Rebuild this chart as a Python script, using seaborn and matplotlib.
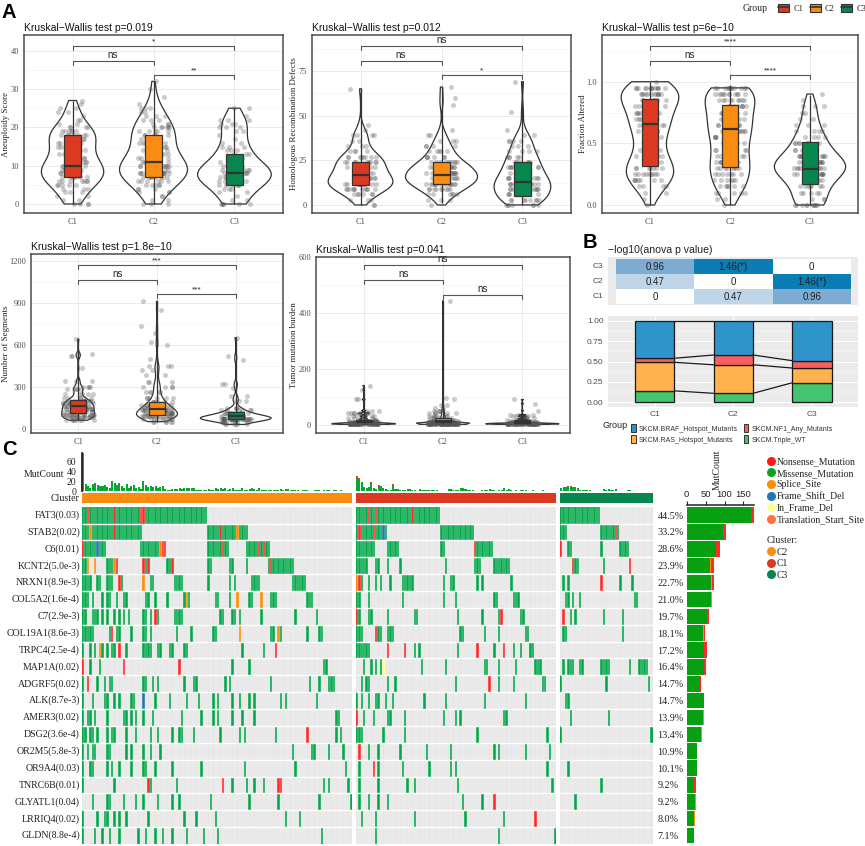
import numpy as np
import pandas as pd
import matplotlib
matplotlib.use("Agg")
import matplotlib.pyplot as plt
import seaborn as sns
from matplotlib.colors import ListedColormap
from matplotlib.lines import Line2D
from matplotlib.patches import Patch
from matplotlib.legend_handler import HandlerTuple
from matplotlib.ticker import AutoMinorLocator

W, H = 865, 846
clusters = ["C1", "C2", "C3"]
cluster_colors = {"C1": "#DB3A20", "C2": "#FA8C12", "C3": "#08864E"}

# panel A: distributions, value levels + how many dots at each
aneu_levels = list(range(33))
aneu_c1 = [4,2,2,3,3,5,7,7,8,8,7,5,5,4,4,4,5,5,7,6,4,2,2,1,2,2,1,1,0,0,0,0,0]
aneu_c2 = [3,2,2,3,3,5,6,8,9,8,8,7,6,5,4,4,5,4,5,5,6,3,3,3,2,3,1,0,1,0,1,0,1]
aneu_c3 = [6,2,1,2,3,6,5,9,8,7,6,3,2,3,3,3,2,1,1,2,3,3,3,1,0,2,0,0,0,0,0,0,0]
aneu_box = {"C1": [0,7,10,18,27], "C2": [0,7,11,18,32], "C3": [0,5,8,13,25]}

hrd_levels = [0,3,6,9,12,15,18,21,24,27,30,33,36,39,42,45,52,56,60,65,66,69]
hrd_c1 = [2,3,6,11,13,12,9,9,9,8,4,3,2,4,1,1,0,0,0,1,0,0]
hrd_c2 = [1,3,6,9,14,16,14,13,9,6,5,4,3,2,1,0,0,1,1,0,1,0]
hrd_c3 = [7,8,8,10,10,8,7,6,6,5,4,3,4,2,1,0,1,0,0,0,0,1]
hrd_box = {"C1": [0,11,17,24,65], "C2": [1,12,17,24,66], "C3": [0,5,13,24,69]}

frac_levels = [0,.05,.1,.15,.2,.25,.3,.35,.4,.45,.5,.55,.6,.65,.7,.75,.8,.85,.9,.95,1.0]
frac_c1 = [1,1,2,4,7,9,7,6,4,3,3,4,5,6,6,5,6,6,12,14,1]
frac_c2 = [1,2,5,6,6,7,8,7,6,6,6,7,8,8,8,7,8,9,11,12,0]
frac_c3 = [10,3,5,7,6,11,14,12,9,5,7,4,4,3,2,2,3,1,1,0,0]
frac_box = {"C1": [0,.32,.66,.86,1.0], "C2": [0,.31,.62,.81,.97], "C3": [0,.17,.29,.51,.89]}

seg_l1 = [60,80,100,120,140,160,180,200,220,250,280,300,340,430,520,530,640]
seg_c1 = [8,14,14,13,13,13,12,10,6,5,5,4,3,1,2,2,1]
seg_l2 = [50,70,90,110,130,150,170,190,220,260,300,330,380,420,450,500,600,620,680,730,850,910]
seg_c2 = [6,10,18,16,13,10,8,7,6,5,4,3,2,2,3,1,1,1,1,1,1,1]
seg_l3 = [30,50,70,90,110,130,150,200,230,290,320,490,520,650]
seg_c3 = [6,10,32,20,10,6,4,3,2,1,2,1,1,1]
seg_box = {"C1": [60,110,162,205,640], "C2": [50,98,138,193,910], "C3": [30,69,90,121,650]}

tmb_l1 = [1,3,5,8,12,16,22,30,40,50,90,125,140]
tmb_c1 = [20,25,20,15,8,7,5,5,8,3,2,1,1]
tmb_l2 = [1,3,5,8,12,16,22,30,40,50,60,70,90,95,443]
tmb_c2 = [25,30,25,20,12,8,6,6,5,4,2,2,1,1,1]
tmb_l3 = [1,3,5,8,12,16,22,30,35,50,75,90]
tmb_c3 = [20,28,22,12,8,5,4,4,3,1,1,1]
tmb_box = {"C1": [1,8,12,16,140], "C2": [1,8,14,22,443], "C3": [1,5,9,15,90]}

# panel B
heat_values = [[0.96,1.46,0],[0.47,0,1.46],[0,0.47,0.96]]
heat_text = [["0.96","1.46(*)","0"],["0.47","0","1.46(*)"],["0","0.47","0.96"]]
heat_rows = ["C3", "C2", "C1"]
share_wt = [0.14, 0.11, 0.24]
share_ras = [0.35, 0.35, 0.18]
share_nf1 = [0.05, 0.12, 0.09]
share_braf = [0.46, 0.42, 0.49]

# panel C
genes = ["FAT3(0.03)","STAB2(0.02)","C6(0.01)","KCNT2(5.0e-3)","NRXN1(8.9e-3)","COL5A2(1.6e-4)",
         "C7(2.9e-3)","COL19A1(8.6e-3)","TRPC4(2.5e-4)","MAP1A(0.02)","ADGRF5(0.02)","ALK(8.7e-3)",
         "AMER3(0.02)","DSG2(3.6e-4)","OR2M5(5.8e-3)","OR9A4(0.03)","TNRC6B(0.01)","GLYATL1(0.04)",
         "LRRIQ4(0.02)","GLDN(8.8e-4)"]
percents = ["44.5%","33.2%","28.6%","23.9%","22.7%","21.0%","19.7%","18.1%","17.2%","16.4%",
            "14.7%","14.7%","13.9%","13.4%","10.9%","10.1%","9.2%","9.2%","8.0%","7.1%"]

hits_c2 = [
    [*range(52)],
    [*range(25),*range(52,69)],
    [*range(10),*range(24,35),*range(52,61),*range(68,78)],
    [0,1,2,5,10,11,12,13,14,25,26,27,35,36,37,52,53,61,62,68,*range(77,88)],
    [0,1,2,3,6,7,10,11,12,15,16,25,28,29,38,39,40,41,52,61,63,70,71,72,73,*range(87,93)],
    [0,1,2,4,8,10,11,14,17,18,26,27,30,35,42,43,44,55,56,61,64,69,70,74,78,79,80,93,94,95],
    [0,1,4,5,6,8,10,13,15,17,19,25,26,28,30,31,38,39,40,41,57,58,62,63,65,74,88,97],
    [0,1,2,3,4,11,12,14,15,20,25,26,28,39,45,54,55,65,78,79,81,82,93,98,99],
    [0,3,5,7,8,10,12,13,15,18,25,26,27,28,31,32,36,37,42,43,66,75,80],
    [0,3,7,17,40,62,69,100,101],
    [0,2,6,9,11,12,25,26,29,31,42,46,47,59,61,78,94,98,102,103,104],
    [0,4,9,10,13,15,20,21,25,30,36,43,48,54,56,62,65,69,71,82,84,97],
    [0,2,3,5,10,17,18,20,22,25,29,41,49,54,56,62,66,71,105,106],
    [0,1,3,4,6,10,12,13,18,22,28,31,37,40,41,46,57,65,67,80,93,105,107],
    [0,2,4,5,10,11,18,20,25,28,32,87,95,96,102,108],
    [0,3,4,10,12,15,20,25,26,30,37,49,67,88,109],
    [0,13,27,28,39,58,62,68,71,75,81,82,100,102,110],
    [4,10,11,17,22,25,31,37,40,53,69,81,98,111],
    [0,6,9,10,13,15,18,27,42,47,55,84,90],
    [0,5,8,11,15,23,26,30,33,37,43,50,56,99],
]
red_c2 = [[2,13,24,25],[13,57],[0,33,34,58,73,75],[14,25,27,37,78],[15],[],[30],[12],[15,80],
          [0,17,40],[2],[],[],[93],[],[],[27,58,81,82],[],[],[]]
orange_c2 = [(1,3),(1,64),(2,32),(3,2),(3,5),(3,13),(4,25),(5,43),(5,64),(5,74),(7,65),(7,81),(8,7)]
blue_c2 = [(2,6),(11,25)]

hits_c1 = [
    [*range(35)],
    [*range(13),*range(35,49)],
    [*range(8),*range(13,18),35,36,*range(49,57)],
    [*range(5),8,9,13,18,37,49,50,51,*range(57,64)],
    [0,1,2,5,8,10,14,*range(19,24),36,39,40,50,52,64],
    [0,1,5,19,36,41,57,58,65,66,67],
    [0,1,5,6,13,24,25,42,52,59,60,68,69],
    [0,1,2,8,9,10,13,14,15,43,44,53,59,70,71],
    [0,1,2,3,4,5,13,20,24,26,42,50,57,61,65,68,72,73],
    [3,6,8,10,11,27,37,53,54,59,66,74,75,76],
    [2,4,5,13,16,41,55,59,65,77,78],
    [0,2,5,8,9,12,15,28,37,53,70],
    [0,3,7,13,14,20,36,41,43,61,62],
    [0,1,2,11,20,50,79],
    [1,5,9,18,29,39,57,59,70,80],
    [1,7,9,19,30,39,41,79],
    [1,9,21,24,42,81],
    [1,5,9,13,44,52,57],
    [2,8,24,45,61,74],
    [8,59,82],
]
red_c1 = [[5,8,23],[1,7],[49],[],[1],[],[0,60],[8],[13,20,50,61],[],[55],[],[0],[],[1],[7],[],[57],[74],[]]
orange_c1 = [(4,0)]
blue_c1 = [(1,11)]
yellow_c1 = [(9,11)]

hits_c3 = [
    [*range(17)],
    [0,1,2,*range(17,25)],
    [0,3,4,17,25,26,27,28],
    [5,6,7,18,29],
    [1,3,17,25,30],
    [2,3,5,8,31,32],
    [1,4,6,18,26],
    [1,2,26],
    [],
    [1,3,4,5,8,9,17,18,19,20,29,33,34,35,36],
    [0,19,37],
    [2,3],
    [4,20],
    [0,38],
    [],
    [3],
    [17],
    [6],
    [],
    [],
]
red_c3 = [[],[23],[0],[5,29],[17],[],[1],[],[],[],[],[],[],[],[],[],[],[],[],[]]

mut_c2 = [77,15,11,7,15,17,12,11,11,13,9,7,21,16,13,16,11,6,15,7,10,12,6,9,5,
          20,12,9,10,8,10,6,8,11,5,3,3,5,4,5,7,5,7,6,7,6,6,3,3,3,3,3,
          4,3,2,6,5,6,5,6,3,4,6,3,2,3,6,3,3,4,6,4,3,6,3,2,2,
          3,3,2,2,2,4,3,5,4,3,2,2,2,1,2,2,2,1,1,2,2,2,1,2,2,2,1,3,2,1,2,1,1,1,1]
mut_c1 = [30,26,19,8,7,8,18,6,5,12,11,7,4,3,3,15,5,4,3,2,3,5,5,2,2,1,5,3,2,2,2,2,2,2,1,1,1,1,5,4,
          3,2,3,7,6,4,2,2,2,1,1,1,2,3,2,4,2,3,1,2,2,6,3,4,2,1,2,1,3,2,2,1,1,3,1,1,1,2,1,1,1,1,1]
mut_c3 = [7,9,9,10,10,8,8,6,3,3,2,2,2,1,1,1,1,1,5,3,4,3,3,4,1,1,1,1,2,2,1,1,1,1,1,1,1,1,1]
mut_red_c2 = {0: 3, 13: 2, 25: 2, 14: 1}
mut_red_c1 = {0: 4, 1: 3, 6: 2, 9: 3, 15: 2}
mut_red_c3 = {0: 1, 4: 1}

bar_green = [171,97,77,62,65,64,54,44,47,47,36,45,44,39,26,26,19,23,20,18]
bar_orange = [0,0,0,3,2,3,0,2,0,0,0,0,1,1,0,0,0,1,1,0]
bar_blue = [0,0,0,0,0,0,0,0,0,0,0,1,0,0,0,0,0,0,0,0]
bar_red = [7,7,11,6,4,0,5,2,7,4,3,0,1,0,1,1,5,1,1,0]

sns.set_theme(style="white", rc={"axes.linewidth": 1.0})
plt.rcParams["font.family"] = ["Liberation Sans", "DejaVu Sans"]
np.random.seed(4)

fig = plt.figure(figsize=(W / 100, H / 100), dpi=100)
SERIF = "Liberation Serif"
DARK = "#333333"


def px_axes(l, t, r, b):
    return fig.add_axes([l / W, 1 - b / H, (r - l) / W, (b - t) / H])


def long_table(levels, counts):
    rows = []
    for c, lv, ct in zip(clusters, levels, counts):
        rows.append(pd.DataFrame({"cluster": c, "value": np.repeat(lv, ct)}))
    return pd.concat(rows, ignore_index=True)


def violin_panel(rect, label_x, ylab, title, levels, counts, box, widths, bw, ylim, yticks, ticklabels, marks, bracket_y):
    ax = px_axes(*rect)
    df = long_table(levels, counts)
    for c, w in zip(clusters, widths):
        sns.violinplot(data=df[df.cluster == c], x="cluster", y="value", order=clusters, cut=0, inner=None,
                       density_norm="width", width=w, fill=False, color=DARK, linewidth=0.9,
                       bw_adjust=bw, ax=ax)
    sns.stripplot(data=df, x="cluster", y="value", order=clusters, color="#555555", alpha=0.3, size=3.6,
                  jitter=0.2, ax=ax, zorder=2)
    box_df = pd.DataFrame([(c, v) for c in clusters for v in box[c]], columns=["cluster", "value"])
    sns.boxplot(data=box_df, x="cluster", y="value", order=clusters, hue="cluster", palette=cluster_colors,
                legend=False, dodge=False, width=0.2, whis=np.inf, showcaps=False, linecolor=DARK,
                linewidth=0.9, saturation=1, fliersize=0, zorder=3, medianprops={"linewidth": 1.6}, ax=ax)
    ax.set_xlim(-0.6, 2.6)
    ax.set_ylim(*ylim)
    ax.set_yticks(yticks)
    ax.set_yticklabels(ticklabels)
    ax.yaxis.set_minor_locator(AutoMinorLocator(2))
    ax.grid(True, which="major", color="#ebebeb", lw=0.7)
    ax.grid(True, which="minor", axis="y", color="#f2f2f2", lw=0.4)
    ax.set_axisbelow(True)
    ax.tick_params(axis="both", which="major", length=2, width=0.6, color=DARK, labelsize=6,
                   labelcolor="#4d4d4d", labelfontfamily=SERIF, pad=1.5)
    ax.tick_params(axis="y", which="minor", length=0)
    ax.set_xlabel("")
    ax.set_ylabel(ylab, family=SERIF, fontsize=6.4, color="#222222")
    ax.yaxis.set_label_coords((label_x - rect[0]) / (rect[2] - rect[0]), 0.5)
    for s in ax.spines.values():
        s.set_visible(True)
        s.set_color("#4d4d4d")
        s.set_linewidth(1.1)
    ax.set_title(title, loc="left", fontsize=7.5, color="#111111", pad=3)
    trans = ax.get_xaxis_transform()
    spans = [(0, 2), (0, 1), (1, 2)]
    for (x0, x1), yb, m in zip(spans, bracket_y, marks):
        ax.plot([x0, x0, x1, x1], [yb - 0.022, yb, yb, yb - 0.022], transform=trans, color="#555555",
                lw=0.8, clip_on=False, zorder=5)
        ax.text((x0 + x1) / 2, yb + 0.006, m, transform=trans, ha="center", va="bottom",
                fontsize=7 if m == "ns" else 6, color="#222222")
    return ax


br = (0.938, 0.856, 0.774)
violin_panel((24, 35, 283, 213), 10, "Aneuploidy Score", "Kruskal\u2212Wallis test p=0.019",
             [aneu_levels] * 3, [aneu_c1, aneu_c2, aneu_c3], aneu_box, (0.77, 0.84, 0.91), 1.0,
             (-2.35, 44.1), [0, 10, 20, 30, 40], ["0", "10", "20", "30", "40"], ["*", "ns", "**"], br)
violin_panel((312, 35, 571, 213), 298, "Homologous Recombination Defects", "Kruskal\u2212Wallis test p=0.012",
             [hrd_levels] * 3, [hrd_c1, hrd_c2, hrd_c3], hrd_box, (0.80, 0.89, 0.70), 0.8,
             (-4.5, 95.1), [0, 25, 50, 75], ["0", "25", "50", "75"], ["ns", "ns", "*"], br)
violin_panel((602, 35, 858, 213), 587, "Fraction Altered", "Kruskal\u2212Wallis test p=6e\u221210",
             [frac_levels] * 3, [frac_c1, frac_c2, frac_c3], frac_box, (0.72, 0.62, 0.89), 0.9,
             (-0.065, 1.379), [0, 0.5, 1.0], ["0.0", "0.5", "1.0"], ["****", "ns", "****"], br)
violin_panel((31, 254, 283, 433), 10, "Number of Segments", "Kruskal\u2212Wallis test p=1.8e\u221210",
             [seg_l1, seg_l2, seg_l3], [seg_c1, seg_c2, seg_c3], seg_box, (0.42, 0.52, 0.90), 0.45,
             (-31, 1248), [0, 300, 600, 900, 1200], ["0", "300", "600", "900", "1200"], ["***", "ns", "***"], br)
violin_panel((316, 257, 570, 433), 298, "Tumor mutation burden", "Kruskal\u2212Wallis test p=0.041",
             [tmb_l1, tmb_l2, tmb_l3], [tmb_c1, tmb_c2, tmb_c3], tmb_box, (0.80, 0.67, 0.92), 0.2,
             (-30, 600), [0, 200, 400, 600], ["0", "200", "400", "600"], ["ns", "ns", "ns"], (0.956, 0.871, 0.786))

# group legend, top right
group_handles = [(Patch(fc=cluster_colors[c], ec=DARK, lw=0.8), Line2D([], [], color=DARK, lw=1.2)) for c in clusters]
fig.legend(group_handles, clusters, handler_map={tuple: HandlerTuple(ndivide=1, pad=0)}, ncol=3, frameon=False,
           loc="center left", bbox_to_anchor=(774 / W, 1 - 8.5 / H), borderpad=0, handlelength=1.35, handleheight=1.0,
           handletextpad=0.5, columnspacing=0.75, prop={"family": SERIF, "size": 6}, labelcolor="#222222")
fig.text(743 / W, 1 - 8.5 / H, "Group", family=SERIF, fontsize=7, va="center", color="#222222")

# panel B heatmap
ax = px_axes(607.7, 257, 858, 305)
heat_cmap = sns.blend_palette(["#ffffff", "#BDD3E7", "#7BAAD0", "#0A7DB5"], as_cmap=True)
sns.heatmap(np.array(heat_values), cmap=heat_cmap, vmin=0, vmax=1.46, cbar=False, annot=np.array(heat_text), fmt="",
            annot_kws={"size": 7, "color": "#222222"}, xticklabels=False, yticklabels=heat_rows, ax=ax)
ax.set_facecolor("#ebebeb")
ax.set_xlim(-0.102, 3.09)
ax.set_ylim(3.04, -0.13)
ax.set_xticks([0.5, 1.5, 2.5])
ax.set_xticklabels([])
ax.tick_params(axis="both", length=2, width=0.6, color="#333333", labelsize=6, labelcolor="#4d4d4d", pad=1)
ax.tick_params(axis="y", labelrotation=0)
for s in ax.spines.values():
    s.set_visible(False)
ax.set_title("\u2212log10(anova p value)", loc="left", fontsize=7.6, color="#222222", pad=3, x=0.0)

# panel B stacked bars
ax = px_axes(607.7, 316, 858, 406.7)
ax.set_facecolor("#ebebeb")
stack_names = ["SKCM.Triple_WT", "SKCM.RAS_Hotspot_Mutants", "SKCM.NF1_Any_Mutants", "SKCM.BRAF_Hotspot_Mutants"]
stack_vals = [share_wt, share_ras, share_nf1, share_braf]
stack_cols = ["#45C46F", "#FFB24D", "#F95F5F", "#2E94C9"]
base = np.zeros(3)
tops = []
for vals, col in zip(stack_vals, stack_cols):
    sns.barplot(x=clusters, y=vals, bottom=base, color=col, saturation=1, width=0.5,
                edgecolor="#1a1a1a", linewidth=0.9, ax=ax, zorder=3)
    base = base + np.array(vals)
    tops.append(base.copy())
for top in tops:
    ax.plot([0.25, 0.75], top[:2], color="#1a1a1a", lw=0.9, zorder=3)
    ax.plot([1.25, 1.75], top[1:], color="#1a1a1a", lw=0.9, zorder=3)
ax.set_xlim(-0.6, 2.586)
ax.set_ylim(-0.054, 1.058)
ax.set_yticks([0, 0.25, 0.5, 0.75, 1.0])
ax.set_yticklabels(["0.00", "0.25", "0.50", "0.75", "1.00"])
ax.yaxis.set_minor_locator(AutoMinorLocator(2))
ax.grid(True, which="major", color="white", lw=0.7)
ax.grid(True, which="minor", axis="y", color="white", lw=0.35)
ax.set_axisbelow(True)
ax.tick_params(axis="both", which="major", length=2, width=0.6, color="#333333", labelsize=6, labelcolor="#4d4d4d", pad=1)
ax.tick_params(axis="y", which="minor", length=0)
for s in ax.spines.values():
    s.set_visible(False)

order = [3, 1, 2, 0]
fig.legend([Patch(fc=stack_cols[i], ec="#1a1a1a", lw=0.6) for i in order], [stack_names[i] for i in order],
           ncol=2, frameon=False, loc="upper left", bbox_to_anchor=(628 / W, 1 - 421 / H), borderpad=0,
           handlelength=0.6, handleheight=1.4, handletextpad=0.45, columnspacing=0.9, labelspacing=0.35,
           prop={"size": 5}, labelcolor="#333333")
fig.text(602.5 / W, 1 - 426 / H, "Group", fontsize=6.5, va="center", color="#222222")


# panel C oncoplot
def block_matrix(n, hits, red, orange=(), blue=(), yellow=()):
    mat = np.zeros((len(genes), n))
    for g, idx in enumerate(hits):
        mat[g, idx] = 1
    for g, idx in enumerate(red):
        mat[g, idx] = 2
    for g, i in orange:
        mat[g, i] = 3
    for g, i in blue:
        mat[g, i] = 4
    for g, i in yellow:
        mat[g, i] = 5
    return mat


onco_cmap = ListedColormap(["#E6E6E6", "#03A84A", "#FF2A2A", "#FF8C00", "#1F78B4", "#FFFF99"])
blocks = [
    ("C2", 82, 352, block_matrix(112, hits_c2, red_c2, orange_c2, blue_c2), mut_c2, mut_red_c2),
    ("C1", 355.7, 556, block_matrix(83, hits_c1, red_c1, orange_c1, blue_c1, yellow_c1), mut_c1, mut_red_c1),
    ("C3", 560, 652.7, block_matrix(39, hits_c3, red_c3), mut_c3, mut_red_c3),
]
for name, left, right, mat, muts, mut_red in blocks:
    n = mat.shape[1]
    first = name == "C2"
    last = name == "C3"

    ax = px_axes(left, 506.7, right, 844)
    sns.heatmap(mat, cmap=onco_cmap, vmin=-0.5, vmax=5.5, cbar=False, linewidths=0,
                xticklabels=False, yticklabels=genes if first else False, ax=ax)
    ax.vlines(np.arange(1, n), 0, len(genes), color="white", lw=0.35, alpha=0.7)
    ax.hlines(np.arange(1, len(genes)), 0, n, color="white", lw=1.0)
    ax.tick_params(axis="both", length=0)
    if first:
        ax.tick_params(axis="y", labelrotation=0, labelsize=7.1, pad=1.5, labelcolor="#222222")
        for t in ax.get_yticklabels():
            t.set_family(SERIF)
    if last:
        ax.yaxis.tick_right()
        ax.set_yticks(np.arange(len(genes)) + 0.5)
        ax.set_yticklabels(percents, rotation=0, family=SERIF, fontsize=7.3, color="#222222", ha="left")
        ax.tick_params(axis="y", length=0, pad=3.5)

    ax = px_axes(left, 493, right, 503)
    sns.heatmap(np.ones((1, n)), cmap=ListedColormap([cluster_colors[name]]), cbar=False,
                xticklabels=False, yticklabels=["Cluster"] if first else False, ax=ax)
    ax.tick_params(axis="both", length=0)
    if first:
        ax.tick_params(axis="y", labelrotation=0, labelsize=7.1, pad=1.5, labelcolor="#222222")
        for t in ax.get_yticklabels():
            t.set_family(SERIF)

    ax = px_axes(left, 453.5, right, 491)
    red_part = np.array([mut_red.get(i, 0) for i in range(n)])
    green_part = np.array(muts) - red_part
    pos = list(range(n))
    sns.barplot(x=pos, y=green_part, order=pos, color="#06A832", saturation=1, width=0.85, linewidth=0, edgecolor="none", ax=ax)
    sns.barplot(x=pos, y=red_part, bottom=green_part, order=pos, color="#FF2A2A", saturation=1, width=0.85, linewidth=0, edgecolor="none", ax=ax)
    ax.set_xlim(-0.5, n - 0.5)
    ax.set_ylim(0, 77)
    ax.set_xticks([])
    sns.despine(ax=ax, left=not first, bottom=True)
    if first:
        ax.spines["left"].set_color("#222222")
        ax.spines["left"].set_linewidth(1.3)
        ax.set_yticks([0, 20, 40, 60])
        ax.tick_params(axis="y", length=3, width=0.8, color="#222222", labelsize=7, pad=1, labelcolor="#222222")
        for t in ax.get_yticklabels():
            t.set_family(SERIF)
    else:
        ax.set_yticks([])

fig.text(24 / W, 1 - 474 / H, "MutCount", family=SERIF, fontsize=7, va="center", color="#222222")

# side bars
ax = px_axes(686.7, 506.7, 754, 844)
left_edge = np.zeros(len(genes))
for vals, col in zip([bar_green, bar_orange, bar_blue, bar_red], ["#06A012", "#FF8C00", "#1F78B4", "#FF2A2A"]):
    sns.barplot(x=vals, y=genes, order=genes, orient="h", left=left_edge, color=col, saturation=1, width=0.92,
                linewidth=0, edgecolor="none", ax=ax)
    left_edge = left_edge + np.array(vals)
ax.set_xlim(0, 178)
ax.set_ylim(19.5, -0.5)
ax.set_yticks([])
ax.set_xlabel("")
ax.set_ylabel("")
ax.xaxis.tick_top()
ax.set_xticks([0, 50, 100, 150])
ax.tick_params(axis="x", length=3, width=0.8, color="#222222", labelsize=6.8, pad=1, labelcolor="#222222")
for t in ax.get_xticklabels():
    t.set_family(SERIF)
for k, s in ax.spines.items():
    s.set_visible(k == "top")
ax.spines["top"].set_color("#222222")
ax.spines["top"].set_position(("outward", 1.5))
ax.spines["top"].set_linewidth(1.1)
fig.text(717.5 / W, 1 - 470 / H, "MutCount", family=SERIF, fontsize=7, rotation=90, ha="center", va="center", color="#222222")

# oncoplot legends
var_names = ["Nonsense_Mutation", "Missense_Mutation", "Splice_Site", "Frame_Shift_Del", "In_Frame_Del", "Translation_Start_Site"]
var_cols = ["#FF1A1A", "#0FA028", "#FF8C00", "#1F78B4", "#FFFF99", "#FF7043"]
dot = lambda col: Line2D([], [], ls="", marker="o", ms=6.5, mfc=col, mec="none")
fig.legend([dot(c) for c in var_cols], var_names, frameon=False, loc="upper left", bbox_to_anchor=(762 / W, 1 - 452.5 / H),
           borderpad=0, handlelength=0.85, handletextpad=0.15, labelspacing=0.25,
           prop={"family": SERIF, "size": 7}, labelcolor="#222222")
leg = fig.legend([dot(cluster_colors[c]) for c in ["C2", "C1", "C3"]], ["C2", "C1", "C3"], frameon=False, loc="upper left",
                 bbox_to_anchor=(762 / W, 1 - 531.5 / H), borderpad=0, handlelength=0.85, handletextpad=0.15, labelspacing=0.25,
                 title="Cluster:", alignment="left", prop={"family": SERIF, "size": 7}, labelcolor="#222222",
                 title_fontproperties={"family": SERIF, "size": 7})

# panel letters
for letter, x, y in [("A", 2, 13), ("B", 583, 243), ("C", 2, 449)]:
    fig.text(x / W, 1 - y / H, letter, fontsize=14.5, fontweight="bold", va="center", color="black")

fig.savefig("out.png", dpi=100)
